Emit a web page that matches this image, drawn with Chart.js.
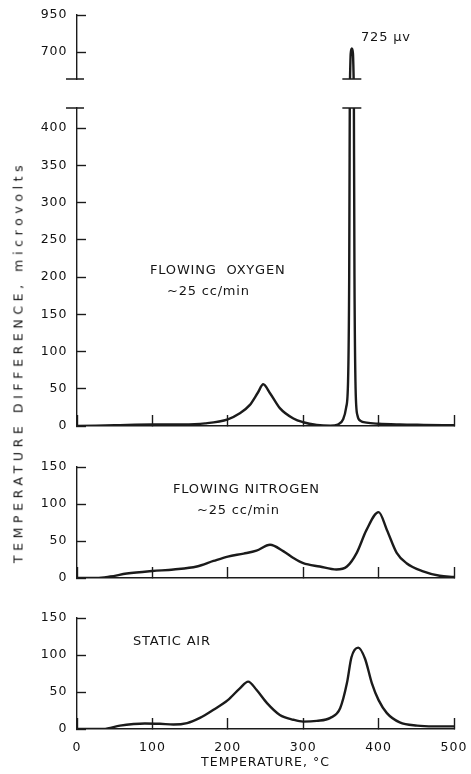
<!DOCTYPE html>
<html><head><meta charset="utf-8">
<script src="https://cdn.jsdelivr.net/npm/chart.js@4.4.1/dist/chart.umd.min.js"></script>
<style>
html,body{margin:0;padding:0;background:#fff;width:471px;height:774px;overflow:hidden}
#wrap{position:relative;width:471px;height:774px}
canvas{position:absolute;left:0}
.lbl{position:absolute;font-family:'DejaVu Sans';font-size:13px;line-height:16px;color:#151515;white-space:nowrap;letter-spacing:0.8px}
#ytitle{position:absolute;left:18.3px;top:362px;transform:translate(-50%,-50%) rotate(-90deg);font-family:'DejaVu Sans';font-size:12.5px;letter-spacing:4.6px;white-space:nowrap;color:#151515}
</style></head>
<body>
<div id="wrap">
<canvas id="c0" width="471" height="80" style="top:3px"></canvas>
<canvas id="c1" width="471" height="334" style="top:96px"></canvas>
<canvas id="c2" width="471" height="127" style="top:455px"></canvas>
<canvas id="c3" width="471" height="168" style="top:606px"></canvas>
<div class="lbl" style="left:361px;top:29px">725 μv</div>
<div class="lbl" style="left:150px;top:262px">FLOWING&nbsp; OXYGEN</div>
<div class="lbl" style="left:167px;top:283px">~25 cc/min</div>
<div class="lbl" style="left:173px;top:481px">FLOWING NITROGEN</div>
<div class="lbl" style="left:197px;top:502px">~25 cc/min</div>
<div class="lbl" style="left:133px;top:633px">STATIC AIR</div>
<div id="ytitle">TEMPERATURE DIFFERENCE, microvolts</div>
</div>
<script>
// ---- data ----
const xRange = [0, 500];
const xTicks = [0, 100, 200, 300, 400, 500];

const o2Temp = [0, 50, 100, 140, 170, 200, 216, 229, 240, 247, 256, 269, 287, 300, 318, 336, 346, 353, 357, 359.5, 361, 362, 363, 364.5, 366, 367, 368, 369.5, 372, 376, 384, 400, 428, 460, 500];
const o2Diff = [0, 1, 2, 2, 3.5, 9, 17, 28, 45, 56, 44, 24, 10, 5, 1.5, 0.5, 2, 9, 25, 60, 200, 500, 690, 725, 690, 500, 200, 50, 14, 7, 4.5, 3, 2, 1.5, 1];

const n2Temp = [0, 26, 44, 66, 100, 128, 159, 181, 200, 221, 238, 256, 274, 287, 300, 322, 344, 358, 371, 384, 400, 411, 424, 437, 459, 481, 500];
const n2Diff = [0, 0, 2, 6, 9.5, 11.5, 15.5, 23, 29, 33, 37, 45, 36, 27, 20, 15.5, 11.5, 15.5, 34, 65, 89, 65, 34, 20, 9, 3, 1.5];

const airTemp = [0, 35, 57, 75, 90, 110, 128, 146, 163, 181, 200, 216, 227, 238, 252, 269, 287, 300, 318, 336, 349, 358, 364, 373, 382, 391, 400, 411, 428, 451, 473, 500];
const airDiff = [0, 0, 4.5, 6.7, 7.5, 7, 6, 8, 15, 26, 39, 55, 64, 53, 35, 19, 12.5, 10, 11, 15, 28, 62, 97, 110, 95, 62, 39, 21.5, 9, 4.5, 3.5, 3.5];

const upperRange = [520, 950];
const upperTicks = [700, 950];
const o2Range = [0, 427];
const o2Ticks = [0, 50, 100, 150, 200, 250, 300, 350, 400];
const smallRange = [0, 150];
const smallTicks = [0, 50, 100, 150];

// ---- styling / helpers ----
const LINE = '#1b1b1b';
const FONT = {family: 'DejaVu Sans', size: 12.5};
const pts = (xs, ys) => xs.map((x, i) => ({x: x, y: ys[i]}));
const o2PeakT = o2Temp[o2Diff.indexOf(Math.max(...o2Diff))];

const spacingPlugin = {
  id: 'spacing',
  beforeLayout(c) { c.ctx.letterSpacing = '1px'; },
  beforeDraw(c) { c.ctx.letterSpacing = '1px'; }
};
const capPlugin = {
  id: 'breakCaps',
  afterDraw(chart, args, opts) {
    if (!opts || !opts.edge) return;
    const {ctx, chartArea, scales} = chart;
    const y = opts.edge === 'top' ? chartArea.top : chartArea.bottom;
    const px = scales.x.getPixelForValue(o2PeakT);
    ctx.save();
    ctx.strokeStyle = LINE; ctx.lineWidth = 1.5;
    ctx.beginPath();
    ctx.moveTo(chartArea.left - 11, y); ctx.lineTo(chartArea.left + 7, y);
    ctx.moveTo(px - 9.5, y); ctx.lineTo(px + 9.5, y);
    ctx.stroke();
    ctx.restore();
  }
};

function xScale(mode) {
  if (mode === 'hidden') return {type: 'linear', min: xRange[0], max: xRange[1], display: false};
  const labels = mode === 'labels';
  return {
    type: 'linear', min: xRange[0], max: xRange[1],
    afterBuildTicks: s => { s.ticks = xTicks.map(v => ({value: v})); },
    afterFit: s => { s.height = labels ? 45 : 0; s.paddingLeft = 0; s.paddingRight = 0; s.paddingTop = 0; s.paddingBottom = 0; },
    border: {display: true, color: LINE, width: 1.4},
    grid: {drawOnChartArea: false, drawTicks: true, tickLength: -11, tickWidth: 1.4, tickColor: LINE},
    ticks: {display: labels, padding: 22.5, color: '#111', font: FONT, maxRotation: 0, autoSkip: false},
    title: {display: labels, text: 'TEMPERATURE, °C', color: '#111', font: FONT, padding: {top: 0, bottom: 3.5}}
  };
}
function yScale(range, ticks) {
  return {
    type: 'linear', position: 'left', min: range[0], max: range[1],
    afterBuildTicks: s => { s.ticks = ticks.map(v => ({value: v})); },
    afterFit: s => { s.width = 77; s.paddingTop = 0; s.paddingBottom = 0; s.paddingLeft = 0; s.paddingRight = 0; },
    border: {display: true, color: LINE, width: 1.4},
    grid: {drawOnChartArea: false, drawTicks: true, tickLength: -9, tickWidth: 1.4, tickColor: LINE},
    ticks: {padding: 18.5, color: '#111', font: FONT, autoSkip: false}
  };
}
function makeChart(id, xs, ys, yRange, yTicks, xMode, padBottom, edge) {
  return new Chart(document.getElementById(id), {
    type: 'line',
    data: {datasets: [{
      data: pts(xs, ys), borderColor: LINE, borderWidth: 2.4, pointRadius: 0,
      cubicInterpolationMode: 'monotone', fill: false
    }]},
    options: {
      responsive: false, animation: false, devicePixelRatio: 1, events: [],
      layout: {padding: {top: 12, right: 17, bottom: padBottom, left: 0}},
      plugins: {legend: {display: false}, tooltip: {enabled: false}, breakCaps: {edge: edge}},
      scales: {x: xScale(xMode), y: yScale(yRange, yTicks)}
    },
    plugins: [spacingPlugin, capPlugin]
  });
}

makeChart('c0', o2Temp, o2Diff, upperRange, upperTicks, 'hidden', 4, 'bottom');
makeChart('c1', o2Temp, o2Diff, o2Range, o2Ticks, 'ticks', 4, 'top');
makeChart('c2', n2Temp, n2Diff, smallRange, smallTicks, 'ticks', 4, null);
makeChart('c3', airTemp, airDiff, smallRange, smallTicks, 'labels', 0, null);
</script>
</body></html>
